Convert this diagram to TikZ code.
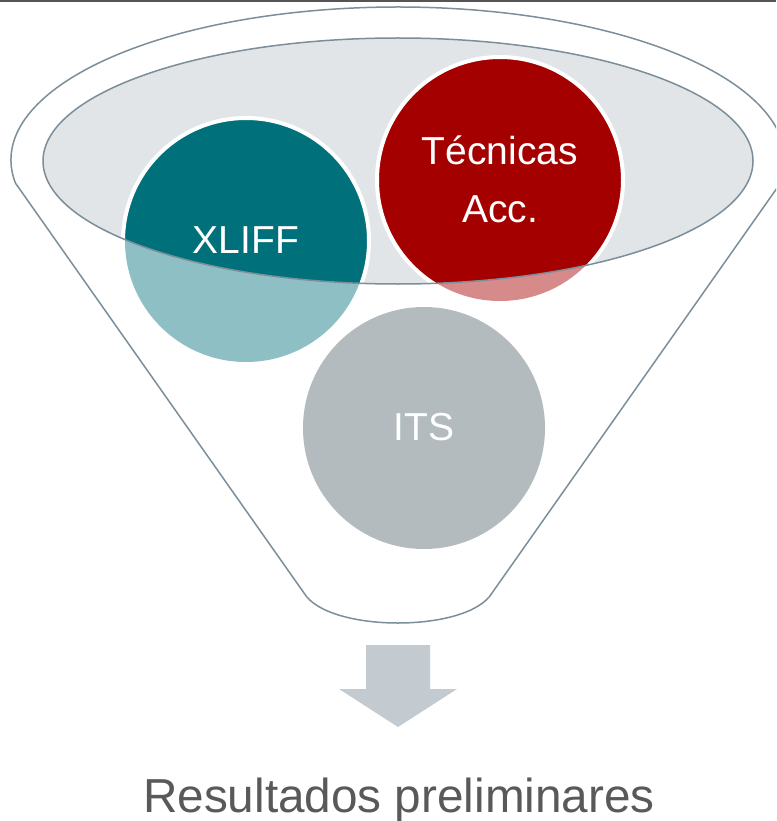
\documentclass[tikz,border=0pt]{standalone}
\usepackage{fontspec}
\setmainfont{Liberation Sans}
\definecolor{tealD}{HTML}{00707A}
\definecolor{tealL}{HTML}{8EBFC4}
\definecolor{redD}{HTML}{A50000}
\definecolor{redL}{HTML}{D78A8A}
\definecolor{itsgrey}{HTML}{B3BBBE}
\definecolor{ellfill}{HTML}{E1E5E8}
\definecolor{strokec}{HTML}{7B8E99}
\definecolor{arrowc}{HTML}{C3CAD0}
\definecolor{txtgrey}{HTML}{595959}
\definecolor{topc}{HTML}{555555}
\tikzset{
  funnelline/.style={draw=strokec, line width=1.5pt, line join=round},
  ringfill/.style={draw=white, line width=4pt},
  lbl/.style={text=white, font=\fontsize{39}{47}\selectfont, inner sep=0pt, anchor=base},
}
\begin{document}
\begin{tikzpicture}[x=1pt,y=-1pt]
\useasboundingbox (0,0) rectangle (776,821);
\fill[topc] (0,0) rectangle (776,1.6);
\clip (0,0) rectangle (776,821);
% funnel outline
\draw[funnelline] (304,593) -- (15.4,183)
  arc[start angle=188.65, end angle=-8.65, x radius=387pt, y radius=153pt]
  -- (492,593) .. controls (468,633) and (328,633) .. (304,593) -- cycle;
% inner ellipse fill
\fill[ellfill] (398,161) ellipse[x radius=355pt, y radius=123pt];
% light parts of circles
\fill[tealL] (246,241) circle[radius=121pt];
\fill[redL] (500,180) circle[radius=121pt];
\fill[itsgrey] (424,428) circle[radius=121pt];
% dark parts inside the ellipse
\begin{scope}
  \clip (398,161) ellipse[x radius=355pt, y radius=123pt];
  \path[ringfill, fill=tealD] (246,241) circle[radius=123pt];
  \path[ringfill, fill=redD] (500,180) circle[radius=123pt];
\end{scope}
\draw[funnelline] (398,161) ellipse[x radius=355pt, y radius=123pt];
% labels
\node[lbl] (xliff) at (246,253) {XLIFF};
\node[lbl] (tec1) at (500,165) {Técnicas};
\node[lbl] (tec2) at (500,222) {Acc.};
\node[lbl] (its) at (424,440) {ITS};
% arrow
\fill[arrowc] (366,645) -- (430,645) -- (430,689) -- (457,689) -- (398,727)
  -- (339,689) -- (366,689) -- cycle;
% result text
\node[text=txtgrey, font=\fontsize{47.7}{57}\selectfont, inner sep=0pt, anchor=base] (res) at (399,812) {Resultados preliminares};
\end{tikzpicture}
\end{document}
